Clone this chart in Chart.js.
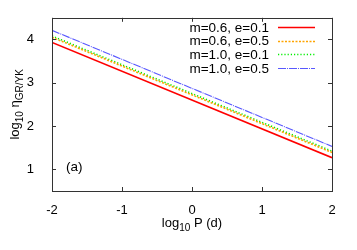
<!DOCTYPE html>
<html>
<head>
<meta charset="utf-8">
<script src="https://cdn.jsdelivr.net/npm/chart.js@4/dist/chart.umd.min.js"></script>
<style>
  html, body { margin: 0; padding: 0; background: #fff; }
  #wrap { width: 357px; height: 250px; }
</style>
</head>
<body>
<div id="wrap"><canvas id="c"></canvas></div>
<script>
// data: straight lines, values at the two ends
const logP = [-2, 2];
const seriesLabels = ['m=0.6, e=0.1', 'm=0.6, e=0.5', 'm=1.0, e=0.1', 'm=1.0, e=0.5'];
const eta_m06_e01 = [3.93, 1.27];
const eta_m06_e05 = [4.05, 1.39];
const eta_m10_e01 = [4.08, 1.42];
const eta_m10_e05 = [4.21, 1.53];
const xTicks = [-2, -1, 0, 1, 2];
const yTicks = [1, 2, 3, 4];

const FONT = '"Liberation Sans", Arial, sans-serif';

const styles = [
    { color: '#ff0000', width: 1.6, dash: [] },
    { color: '#ffa500', width: 1.6, dash: [2, 1.5] },
    { color: '#00ee00', width: 1.6, dash: [1.2, 2] },
    { color: '#5858ff', width: 1.1, dash: [8, 1, 1, 1] }
];
const values = [eta_m06_e01, eta_m06_e05, eta_m10_e01, eta_m10_e05];

const datasets = values.map((vals, i) => ({
    label: seriesLabels[i],
    data: vals.map((v, k) => ({ x: logP[k], y: v })),
    borderColor: styles[i].color,
    borderWidth: styles[i].width,
    borderDash: styles[i].dash,
    pointRadius: 0,
    fill: false,
    tension: 0
}));

// frame, inward ticks (mirrored), titles, legend and panel label
const decor = {
    id: 'decor',
    afterDraw(chart) {
        const ctx = chart.ctx;
        const a = chart.chartArea;
        const xs = chart.scales.x, ys = chart.scales.y;
        ctx.save();
        ctx.strokeStyle = '#333';
        ctx.lineWidth = 1;
        ctx.setLineDash([]);
        ctx.strokeRect(Math.round(a.left) + 0.5, Math.round(a.top) + 0.5,
            Math.round(a.right - a.left), Math.round(a.bottom - a.top));
        ctx.beginPath();
        const tl = 4;
        xTicks.forEach(v => {
            const px = Math.round(xs.getPixelForValue(v)) + 0.5;
            ctx.moveTo(px, a.bottom); ctx.lineTo(px, a.bottom - tl);
            ctx.moveTo(px, a.top); ctx.lineTo(px, a.top + tl);
        });
        yTicks.forEach(v => {
            const py = Math.round(ys.getPixelForValue(v)) + 0.5;
            ctx.moveTo(a.left, py); ctx.lineTo(a.left + tl, py);
            ctx.moveTo(a.right, py); ctx.lineTo(a.right - tl, py);
        });
        ctx.stroke();

        ctx.fillStyle = '#000';
        ctx.textBaseline = 'alphabetic';

        // x title: log10 P (d)
        const xParts = [['log', 13, 0], ['10', 10, 4], [' P (d)', 13, 0]];
        drawParts(ctx, xParts, (a.left + a.right) / 2, 227);

        // y title: log10 eta_GR/YK, rotated
        ctx.save();
        ctx.translate(19, (a.top + a.bottom) / 2);
        ctx.rotate(-Math.PI / 2);
        const yParts = [['log', 13, 0], ['10', 10, 4], [' \u03b7', 13, 0], ['GR/YK', 10, 4]];
        drawParts(ctx, yParts, 0, 0);
        ctx.restore();

        // legend
        ctx.font = '13.5px ' + FONT;
        ctx.textAlign = 'right';
        ctx.textBaseline = 'middle';
        chart.data.datasets.forEach((ds, i) => {
            const y = 27 + i * 13.7;
            ctx.fillStyle = '#000';
            ctx.fillText(ds.label, 269, y + 1);
            ctx.strokeStyle = ds.borderColor;
            ctx.lineWidth = ds.borderWidth;
            ctx.setLineDash(ds.borderDash);
            ctx.beginPath();
            ctx.moveTo(278, Math.round(y) + 0.5);
            ctx.lineTo(315, Math.round(y) + 0.5);
            ctx.stroke();
        });
        ctx.setLineDash([]);

        // panel label
        ctx.textAlign = 'left';
        ctx.fillStyle = '#000';
        ctx.fillText('(a)', xs.getPixelForValue(-1.8), ys.getPixelForValue(1.05));
        ctx.restore();
    }
};

function drawParts(ctx, parts, cx, baseline) {
    let total = 0;
    parts.forEach(p => { ctx.font = p[1] + 'px ' + FONT; total += ctx.measureText(p[0]).width; });
    let x = cx - total / 2;
    ctx.textAlign = 'left';
    parts.forEach(p => {
        ctx.font = p[1] + 'px ' + FONT;
        ctx.fillText(p[0], x, baseline + p[2]);
        x += ctx.measureText(p[0]).width;
    });
}

new Chart(document.getElementById('c'), {
    type: 'line',
    data: { datasets },
    options: {
        responsive: true,
        maintainAspectRatio: false,
        animation: false,
        layout: { padding: { left: 0, right: 25, top: 16, bottom: 0 } },
        plugins: { legend: { display: false }, tooltip: { enabled: false } },
        scales: {
            x: {
                type: 'linear',
                min: -2, max: 2,
                grid: { display: false },
                border: { display: false },
                afterBuildTicks: s => { s.ticks = xTicks.map(v => ({ value: v })); },
                afterFit: s => { s.height = 59; },
                ticks: { color: '#000', padding: 4, maxRotation: 0, font: { family: FONT, size: 13 } }
            },
            y: {
                min: 0.5, max: 4.5,
                grid: { display: false },
                border: { display: false },
                afterBuildTicks: s => { s.ticks = yTicks.map(v => ({ value: v })); },
                afterFit: s => { s.width = 52; },
                ticks: { color: '#000', padding: 10, font: { family: FONT, size: 13 } }
            }
        }
    },
    plugins: [decor]
});
</script>
</body>
</html>
